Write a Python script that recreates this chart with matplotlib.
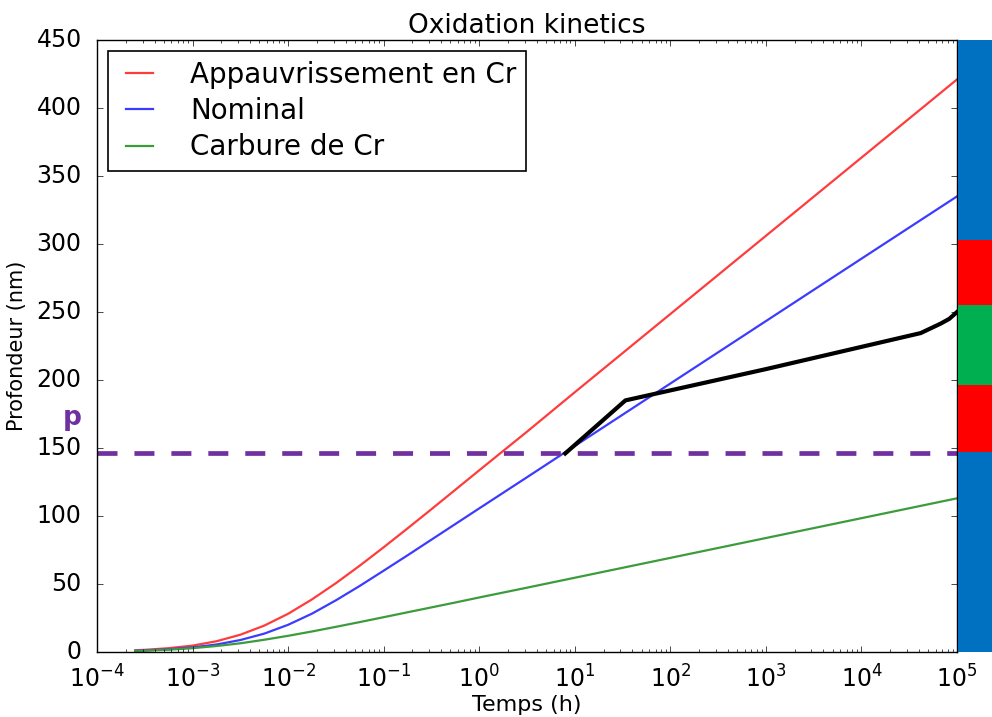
"""Oxidation kinetics: depth vs time (log scale) for three Cr states, with a
side band showing the depth zones."""

import matplotlib
matplotlib.use("Agg")
import matplotlib.pyplot as plt
import numpy as np

# log10 of time (h) at which the curves were read
log_t = [-3.6, -3.5, -3.25, -3.0, -2.75, -2.5, -2.25, -2.0, -1.75, -1.5,
         -1.25, -1.0, -0.75, -0.5, -0.25, 0.0, 0.5, 1.0, 2.0, 3.0, 4.0, 5.0]

depth_appauvri = [1.3, 1.6, 2.8, 4.7, 7.9, 12.7, 19.4, 28.1, 38.7, 50.6,
                  63.5, 77.0, 90.9, 105.0, 119.3, 133.6, 162.0, 191.0,
                  248.5, 306.0, 363.5, 421.0]
depth_nominal = [0.9, 1.2, 2.0, 3.4, 5.5, 8.8, 13.5, 20.0, 28.2, 38.0,
                 48.6, 59.8, 71.1, 82.6, 94.1, 105.6, 128.5, 151.5,
                 197.4, 243.3, 289.2, 335.0]
depth_carbure = [0.8, 1.0, 1.7, 2.8, 4.4, 6.4, 9.0, 11.9, 15.1, 18.5,
                 22.0, 25.6, 29.2, 32.8, 36.4, 40.1, 47.3, 54.6,
                 69.2, 83.8, 98.4, 113.0]

# black path (measured depth)
black_log_t = [0.9, 1.53, 3.0, 4.62, 4.83, 4.92, 5.0]
black_depth = [146.0, 185.0, 208.0, 234.5, 241.5, 245.0, 250.0]

p_level = 146.0

# side band (depth zones)
band_edges = [0, 147, 196, 255, 303, 450]
band_colors = ["#0070c0", "#ff0000", "#00b050", "#ff0000", "#0070c0"]

labels = ["Appauvrissement en Cr", "Nominal", "Carbure de Cr"]
colors = ["#ff3c3c", "#3c3cff", "#3c9c3c"]

plt.style.use("classic")
plt.rcParams["font.family"] = ["DejaVu Sans"]
plt.rcParams["lines.scale_dashes"] = False

fig = plt.figure(figsize=(9.92, 7.17), dpi=100, facecolor="white")
ax = fig.add_axes([97 / 992, 65 / 717, 860 / 992, 612 / 717])

t = 10.0 ** np.array(log_t)
for y, c, lab in zip([depth_appauvri, depth_nominal, depth_carbure], colors, labels):
    ax.plot(t, y, color=c, lw=1.6, label=lab)

ax.plot(10.0 ** np.array(black_log_t), black_depth, color="black", lw=3,
        solid_joinstyle="round")
ax.axhline(p_level, color="#7030a0", lw=3.4, dashes=(14.4, 12.2))

ax.set_xscale("log")
ax.set_xlim(1e-4, 1e5)
ax.set_ylim(0, 450)
ax.set_title("Oxidation kinetics", fontsize=19, pad=5)
ax.set_xlabel("Temps (h)", fontsize=16)
ax.set_ylabel("Profondeur (nm)", fontsize=15)
ax.xaxis.set_label_coords(0.5, -0.071)
ax.yaxis.set_label_coords(-0.081, 0.5)
ax.tick_params(labelsize=17)
ax.tick_params(axis="y", pad=11)
ax.tick_params(axis="x", pad=10)

leg = ax.legend(loc="upper left", fontsize=20, handlelength=1.55,
                handletextpad=1.05, borderpad=0.35, labelspacing=0.3,
                borderaxespad=0.4)
leg.get_frame().set_linewidth(1.2)

fig.text(72 / 992, 1 - 418 / 717, "p", color="#7030a0", fontsize=19,
         fontweight="bold", ha="center", va="center")

# side colour band
bax = fig.add_axes([958 / 992, 65 / 717, 34 / 992, 612 / 717])
for lo, hi, c in zip(band_edges[:-1], band_edges[1:], band_colors):
    bax.bar(0.5, hi - lo, bottom=lo, width=1.0, color=c, edgecolor="none")
bax.set_xlim(0, 1)
bax.set_ylim(0, 450)
bax.axis("off")

fig.savefig("out.png", dpi=100)
